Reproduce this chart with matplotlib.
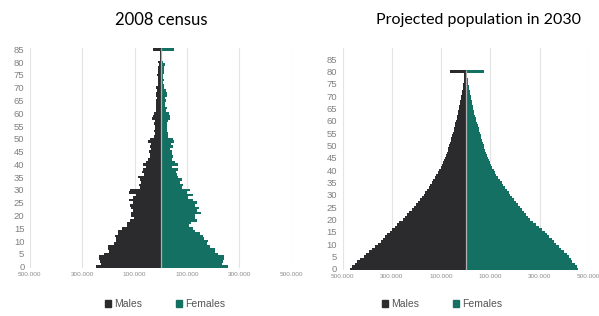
import numpy as np
import matplotlib.pyplot as plt
from matplotlib.patches import Patch
from matplotlib.ticker import FuncFormatter, MultipleLocator

# 2008 census, ages 0..85 (85 = 85+), population in thousands
ages_2008 = list(range(86))
males_2008 = [247, 228, 232, 235, 238, 218, 199, 203, 203, 180,
              170, 170, 174, 162, 162, 149, 129, 129, 119, 103,
              115, 113, 106, 113, 119, 106, 122, 106, 94, 122,
              117, 81, 83, 74, 81, 87, 65, 71, 68, 55,
              68, 55, 49, 42, 42, 45, 36, 42, 36, 49,
              42, 27, 23, 26, 23, 23, 26, 23, 32, 29,
              27, 19, 19, 17, 17, 17, 14, 17, 17, 14,
              17, 12, 12, 12, 9, 14, 12, 9, 9, 6,
              9, 4, 4, 4, 3, 29]
females_2008 = [256, 233, 237, 242, 242, 220, 208, 208, 186, 176,
                182, 165, 160, 150, 131, 124, 109, 114, 140, 131,
                131, 154, 137, 144, 131, 137, 122, 105, 124, 99,
                112, 79, 83, 73, 79, 67, 63, 58, 67, 44,
                64, 54, 41, 45, 41, 41, 35, 45, 37, 50,
                47, 28, 28, 22, 22, 24, 22, 28, 35, 35,
                32, 19, 22, 17, 17, 19, 15, 22, 24, 19,
                12, 12, 9, 12, 9, 9, 12, 14, 12, 17,
                9, 6, 5, 5, 4, 50]

# projection for 2030, ages 0..80 (80 = 80+), thousands
ages_2030 = list(range(81))
males_2030 = [470, 462, 450, 440, 428, 415, 405, 393, 380, 368,
              356, 346, 337, 328, 318, 308, 298, 288, 279, 270,
              256, 246, 238, 229, 220, 211, 203, 195, 187, 179,
              171, 164, 157, 150, 144, 137, 131, 125, 119, 113,
              107, 102, 97, 92, 88, 84, 80, 76, 73, 70,
              67, 64, 61, 58, 55, 52, 49, 46, 44, 42,
              39, 37, 35, 32, 30, 28, 26, 24, 22, 20,
              18, 16, 14, 13, 11, 10, 8, 7, 6, 5, 62]
females_2030 = [458, 452, 442, 432, 428, 420, 410, 398, 388, 378,
                368, 358, 349, 340, 331, 321, 309, 297, 286, 274,
                262, 254, 246, 237, 228, 220, 212, 204, 196, 189,
                181, 174, 167, 160, 153, 146, 139, 132, 125, 119,
                113, 108, 103, 99, 95, 91, 87, 83, 79, 76,
                73, 70, 67, 64, 61, 58, 55, 52, 49, 46,
                43, 40, 38, 35, 33, 30, 28, 26, 24, 22,
                20, 18, 16, 14, 12, 11, 10, 8, 7, 6, 73]

MALE = '#2b2a2d'
FEMALE = '#137062'
plt.rcParams['font.family'] = ['Liberation Sans', 'DejaVu Sans']


def fmt(v, pos):
    return '{:,.0f}'.format(abs(v)).replace(',', '.')


def pyramid(ax, ages, males, females, ncat):
    m = -np.array(males) * 1000
    f = np.array(females) * 1000
    ax.barh(ages, m, height=1.0, color=MALE, linewidth=0, zorder=2)
    ax.barh(ages, f, height=1.0, color=FEMALE, linewidth=0, zorder=2)
    ax.vlines(0, -0.5, ages[-1] + 0.5, color='#b0b0b0', lw=0.9, zorder=3)
    ax.set_xlim(-500000, 500000)
    ax.set_ylim(-0.5, ncat - 0.5)
    ax.xaxis.set_major_locator(MultipleLocator(200000, offset=100000))
    ax.xaxis.set_major_formatter(FuncFormatter(fmt))
    ax.set_yticks(range(0, 86, 5))
    ax.grid(axis='x', color='#e3e3e3', lw=0.8, zorder=0)
    for s in ax.spines.values():
        s.set_visible(False)
    ax.tick_params(axis='x', length=0, labelsize=4.6, labelcolor='#8c8c8c', pad=3)
    ax.tick_params(axis='y', length=0, labelsize=6.8, labelcolor='#808080', pad=4)
    handles = [Patch(color=MALE, label='Males'), Patch(color=FEMALE, label='Females')]
    return handles


fig = plt.figure(figsize=(5.99, 3.16), dpi=100)
ax1 = fig.add_axes([0.050, 0.152, 0.437, 0.696])
ax2 = fig.add_axes([0.572, 0.1456, 0.411, 0.7024])

h = pyramid(ax1, ages_2008, males_2008, females_2008, 86)
pyramid(ax2, ages_2030, males_2030, females_2030, 90)

fig.text(161 / 599, 1 - 20 / 316, '2008 census', ha='center', va='center',
         fontsize=12, family='Lato')
fig.text(478 / 599, 1 - 20 / 316, 'Projected population in 2030', ha='center',
         va='center', fontsize=11.5, family='Lato')

for cx in (165 / 599, 442 / 599):
    fig.legend(handles=h, loc='center', bbox_to_anchor=(cx, 1 - 304 / 316), ncol=2,
               frameon=False, fontsize=7.5, handlelength=0.6, handleheight=0.6,
               handletextpad=0.3, columnspacing=3.2, labelcolor='#555555')

plt.savefig('out.png', dpi=100)
